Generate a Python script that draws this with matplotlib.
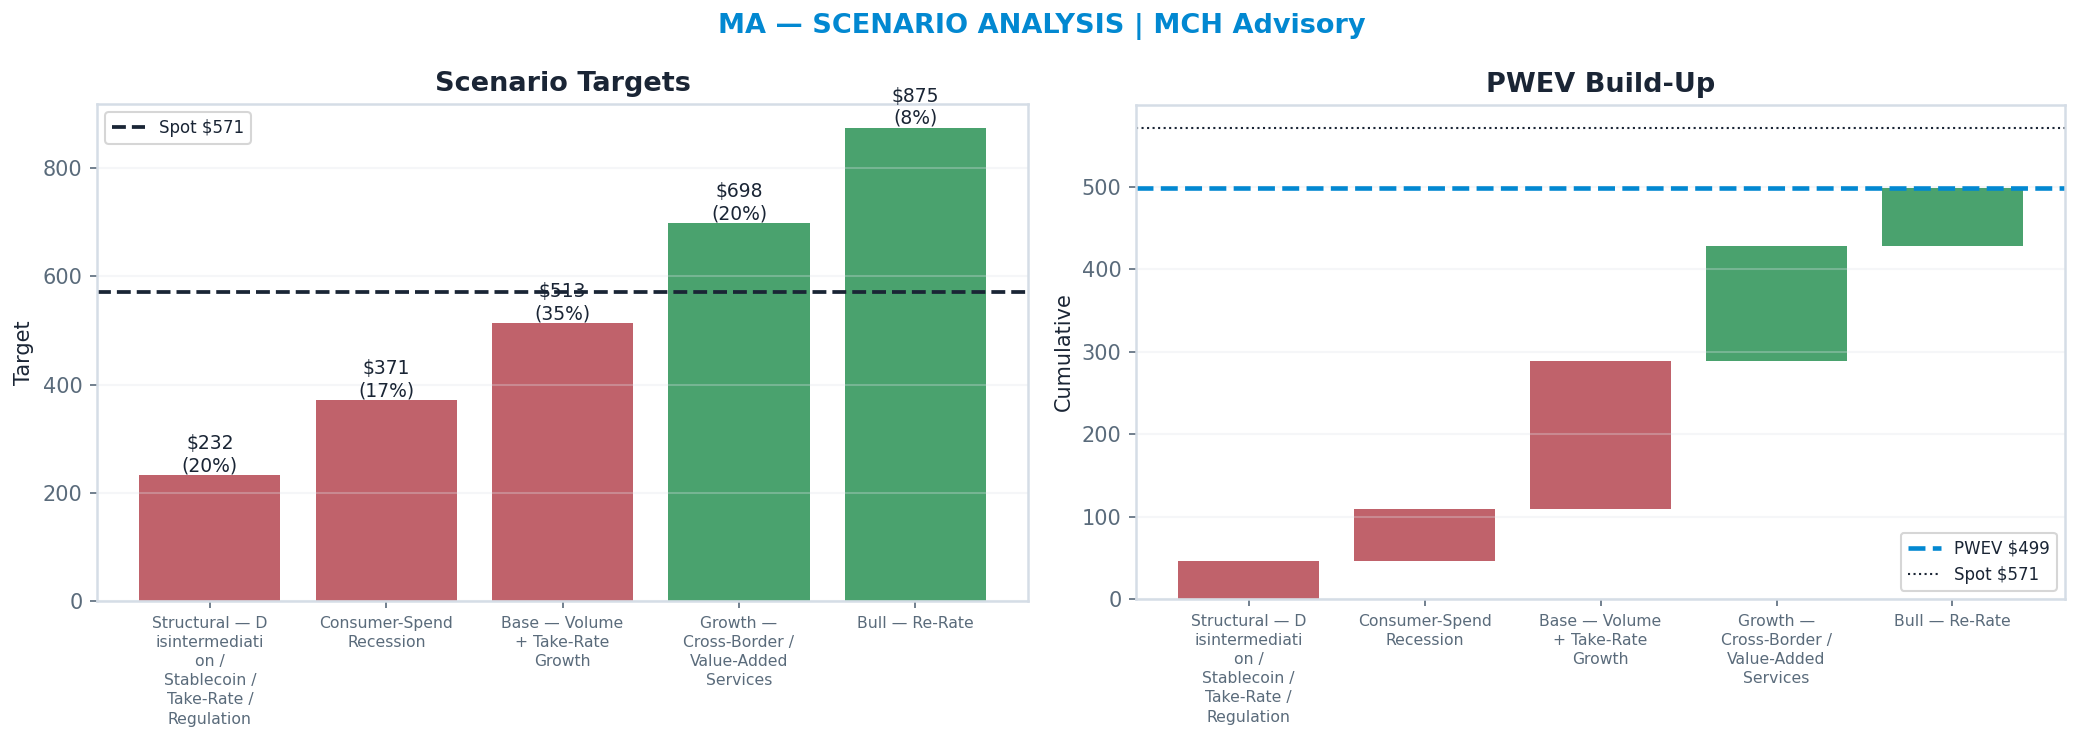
import textwrap

import matplotlib
matplotlib.use("Agg")
import matplotlib.pyplot as plt
import numpy as np

# scenario data
scenarios = [
    "Structural — Disintermediation / Stablecoin / Take-Rate / Regulation",
    "Consumer-Spend Recession",
    "Base — Volume + Take-Rate Growth",
    "Growth — Cross-Border / Value-Added Services",
    "Bull — Re-Rate",
]
targets = [232, 371, 513, 698, 875]
probs = [0.20, 0.17, 0.35, 0.20, 0.08]
spot = 571

RED = "#c0626b"
GREEN = "#4aa26e"
NAVY = "#1a2535"
BLUE = "#0288d1"
SLATE = "#5a6b7b"
SPINE = "#d5dde6"

contrib = np.array(targets) * np.array(probs)
pwev = contrib.sum()
cum_before = np.concatenate([[0], np.cumsum(contrib)[:-1]])
colors = [GREEN if t > spot else RED for t in targets]
labels = ["\n".join(textwrap.wrap(s, 14)) for s in scenarios]
x = np.arange(len(scenarios))

fig = plt.figure(figsize=(2083 / 150, 742 / 150), dpi=150)
ax1 = fig.add_axes([0.0466, 0.190, 0.447, 0.670])
ax2 = fig.add_axes([0.5454, 0.1927, 0.446, 0.666])


def style(ax):
    for sp in ax.spines.values():
        sp.set_color(SPINE)
        sp.set_linewidth(1.2)
    ax.tick_params(axis="both", colors=SLATE, labelsize=10)
    ax.tick_params(axis="x", labelsize=7.5)
    ax.grid(axis="y", color="#dfe4ea", linewidth=1.0, alpha=0.3)
    ax.set_xticks(x)
    ax.set_xticklabels(labels, linespacing=1.35)


# left: scenario targets
ax1.bar(x, targets, width=0.8, color=colors)
for xi, t, p in zip(x, targets, probs):
    ax1.text(xi, t, f"${t}\n({p:.0%})", ha="center", va="bottom", fontsize=9, color=NAVY)
ax1.axhline(spot, color=NAVY, linestyle="--", linewidth=1.8, label=f"Spot ${spot}")
ax1.set_ylim(0, max(targets) * 1.05)
ax1.set_ylabel("Target", color=NAVY, fontsize=10)
ax1.set_title("Scenario Targets", fontsize=13, fontweight="bold", color=NAVY)
ax1.legend(loc="upper left", fontsize=8, labelcolor=NAVY)
style(ax1)

# right: PWEV waterfall
ax2.bar(x, contrib, bottom=cum_before, width=0.8, color=colors)
ax2.axhline(pwev, color=BLUE, linestyle="--", linewidth=2.2, label=f"PWEV ${pwev:.0f}")
ax2.axhline(spot, color=NAVY, linestyle=":", linewidth=1.0, label=f"Spot ${spot}")
ax2.set_ylim(0, spot * 1.05)
ax2.set_ylabel("Cumulative", color=NAVY, fontsize=10)
ax2.set_title("PWEV Build-Up", fontsize=13, fontweight="bold", color=NAVY)
ax2.legend(loc="lower right", fontsize=8, labelcolor=NAVY)
style(ax2)

fig.suptitle("MA — SCENARIO ANALYSIS | MCH Advisory", fontsize=13, fontweight="bold",
             color=BLUE, y=0.964, va="center")

fig.savefig("out.png", dpi=150)
